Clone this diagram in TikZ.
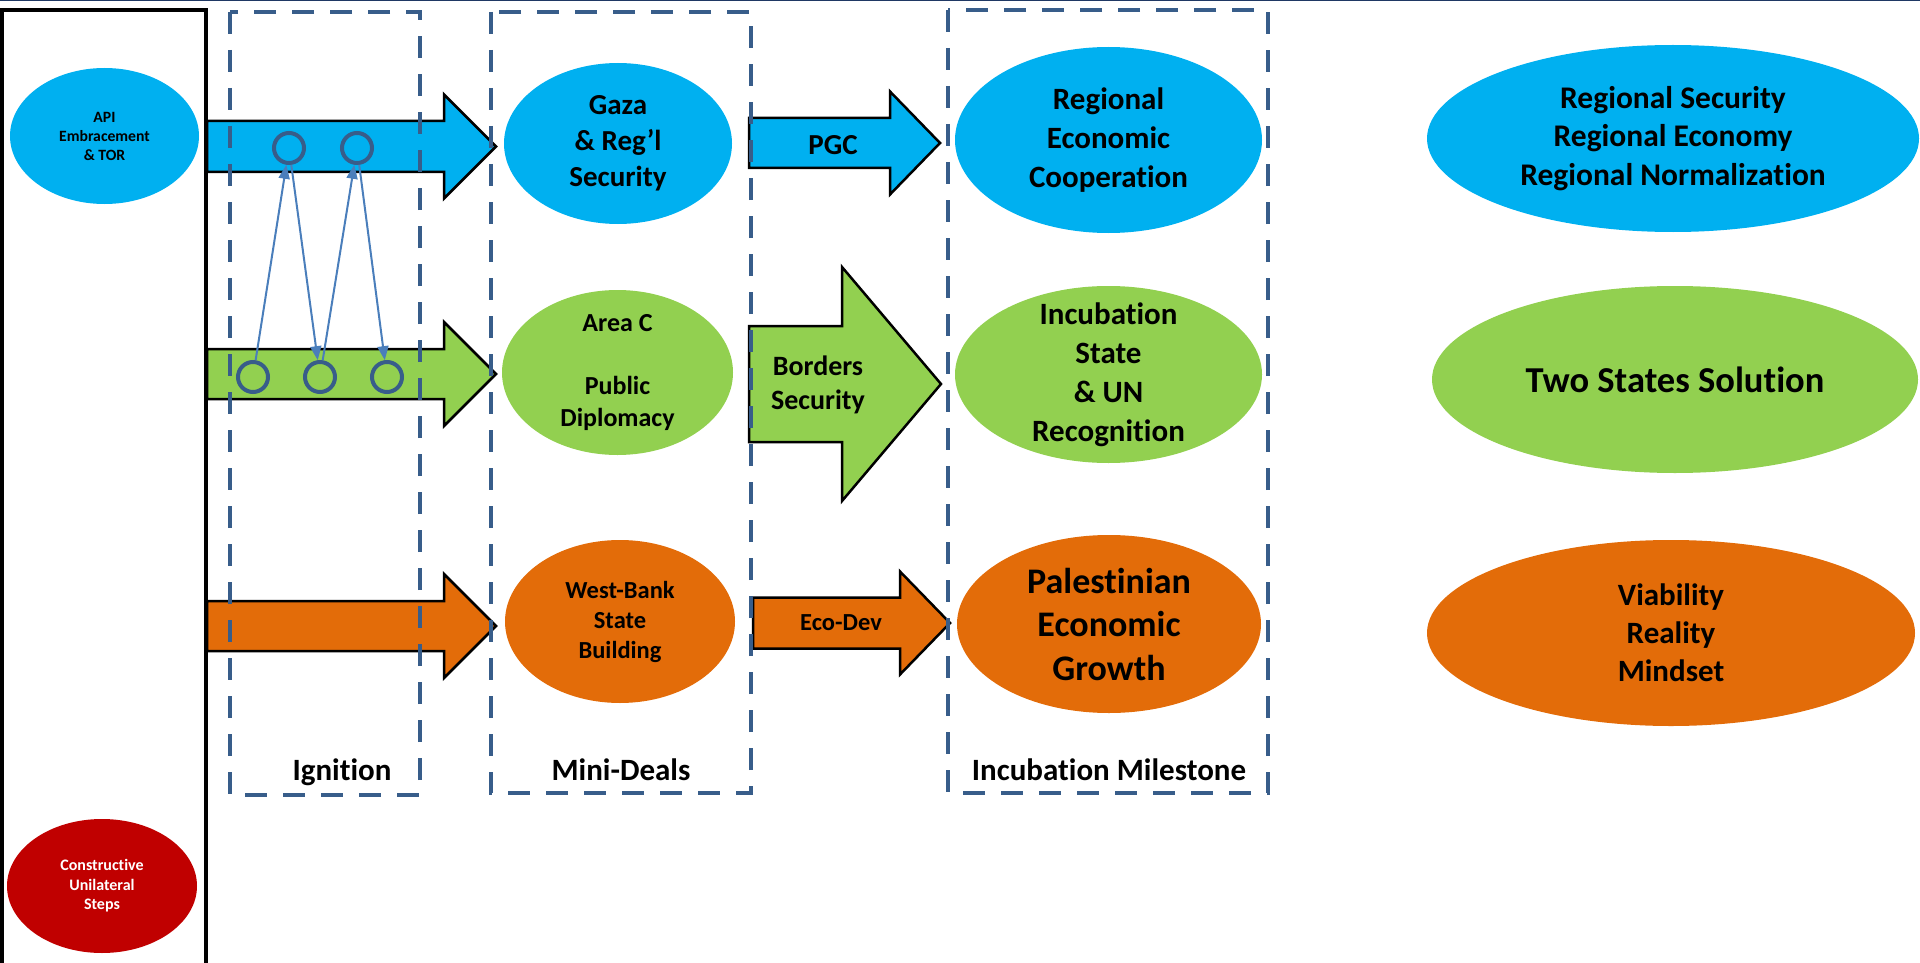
\documentclass[tikz,border=0pt]{standalone}
\usepackage{fontspec}
\setmainfont{Carlito}[Ligatures={TeX,NoCommon}]
\usetikzlibrary{shapes.geometric,arrows.meta}

\definecolor{skyblue}{HTML}{00B0F0}
\definecolor{leaf}{HTML}{92D050}
\definecolor{pumpkin}{HTML}{E36C09}
\definecolor{crimson}{HTML}{C00000}
\definecolor{dashblue}{HTML}{385D8A}
\definecolor{linkblue}{HTML}{4A7EBB}
\definecolor{navy}{HTML}{1F3864}

\tikzset{
	blob/.style={ellipse, inner sep=0pt, fill=#1},
	lbl/.style 2 args={font=\bfseries\fontsize{#1pt}{#2pt}\selectfont, align=center, inner sep=0pt},
	phase/.style={draw=dashblue, line width=4pt, dash pattern=on 22pt off 16pt},
	knot/.style={circle, draw=dashblue, line width=4pt, minimum size=30pt, inner sep=0pt},
	link/.style={draw=linkblue, line width=2pt, -{Triangle[length=14pt,width=11pt]}},
	flow/.style={draw=black, line width=2.5pt, fill=#1, line join=miter}
}

% block arrow: colour, start x, head base x, tip x, centre y, body half, head half
\newcommand{\bigarrow}[7]{%
	\draw[flow=#1] (#2,#5-#6) -- (#3,#5-#6) -- (#3,#5-#7) -- (#4,#5)
		-- (#3,#5+#7) -- (#3,#5+#6) -- (#2,#5+#6) -- cycle;}

\begin{document}
\begin{tikzpicture}[x=1pt, y=-1pt]
		\useasboundingbox (0,0) rectangle (1920,963);
		\draw[navy, line width=1.5pt] (0,0.75) -- (1920,0.75);

		% left panel
		\draw[line width=4pt] (1.5,975) -- (1.5,10) -- (205.5,10) -- (205.5,975);
		\node[blob=skyblue, minimum width=189pt, minimum height=136pt] (api) at (104.5,136) {};
		\node[lbl={15.7}{19}] at (api) {API\\Embracement\\\& TOR};
		\node[blob=crimson, minimum width=190pt, minimum height=134pt] (steps) at (102,886) {};
		\node[lbl={16}{19.5}, text=white] at (steps) {Constructive\\Unilateral\\Steps};

		% ignition arrows
		\bigarrow{skyblue}{207}{444}{496}{146.5}{25.5}{52}
		\bigarrow{leaf}{207}{444}{496}{374}{25}{52}
		\bigarrow{pumpkin}{207}{444}{496}{626}{25}{52}

		% mini-deal arrows
		\bigarrow{skyblue}{749}{890}{940}{143}{25}{51.5}
		\bigarrow{leaf}{749}{842}{941}{384}{58}{117}
		\bigarrow{pumpkin}{753}{900}{950}{623}{25.5}{51.5}
		\node[lbl={29}{35}] (pgc) at (833,145) {PGC};
		\node[lbl={28}{34}] (borders) at (818,385) {Borders\\Security};
		\node[lbl={24.5}{30}] (ecodev) at (841,623) {Eco-Dev};

		% knots and links
		\node[knot] (b1) at (289,148) {};
		\node[knot] (b2) at (357,148) {};
		\foreach \i/\x in {1/253,2/320,3/387}
			\node[knot] (g\i) at (\x,377) {};
		\draw[link] (g1) -- (b1);
		\draw[link] (b1) -- (g2);
		\draw[link] (g2) -- (b2);
		\draw[link] (b2) -- (g3);

		% phases
		\draw[phase] (230,12) rectangle (420,795);
		\draw[phase] (491,12) rectangle (751,793);
		\draw[phase] (948,10) rectangle (1268,793);
		\node[lbl={31}{37}] (ignition) at (342,772) {Ignition};
		\node[lbl={31}{37}] (minideals) at (621,770) {Mini-Deals};
		\node[lbl={31}{37}] (milestone) at (1109,770) {Incubation Milestone};

		% mini-deals
		\node[blob=skyblue, minimum width=228pt, minimum height=161pt] (gaza) at (618,143.5) {};
		\node[lbl={29}{36}] at (gaza) {Gaza\\\& Reg’l\\Security};
		\node[blob=leaf, minimum width=231pt, minimum height=165pt] (areac) at (617.5,372.5) {};
		\node[lbl={26}{32}] at (areac) {Area C\\[31pt]Public\\Diplomacy};
		\node[blob=pumpkin, minimum width=230pt, minimum height=163pt] (wbank) at (620,621.5) {};
		\node[lbl={24.5}{30}] at (wbank) {West-Bank\\State\\Building};

		% incubation milestone
		\node[blob=skyblue, minimum width=307pt, minimum height=186pt] (rec) at (1108.5,140) {};
		\node[lbl={31}{39}] at (rec) {Regional\\Economic\\Cooperation};
		\node[blob=leaf, minimum width=307pt, minimum height=177pt] (incub) at (1108.5,374.5) {};
		\node[lbl={31}{39}] at (incub) {Incubation\\State\\\& UN\\Recognition};
		\node[blob=pumpkin, minimum width=304pt, minimum height=178pt] (growth) at (1109,624) {};
		\node[lbl={36}{43.5}] at (growth) {Palestinian\\Economic\\Growth};

		% goals
		\node[blob=skyblue, minimum width=492pt, minimum height=187pt] (region) at (1673,138.5) {};
		\node[lbl={31.5}{38.5}] at (region) {Regional Security\\Regional Economy\\Regional Normalization};
		\node[blob=leaf, minimum width=486pt, minimum height=187pt] (twostates) at (1675,379.5) {};
		\node[lbl={36.5}{44}] at (twostates) {Two States Solution};
		\node[blob=pumpkin, minimum width=488pt, minimum height=186pt] (viable) at (1671,633) {};
		\node[lbl={31}{38}] at (viable) {Viability\\Reality\\Mindset};
	\end{tikzpicture}
\end{document}
